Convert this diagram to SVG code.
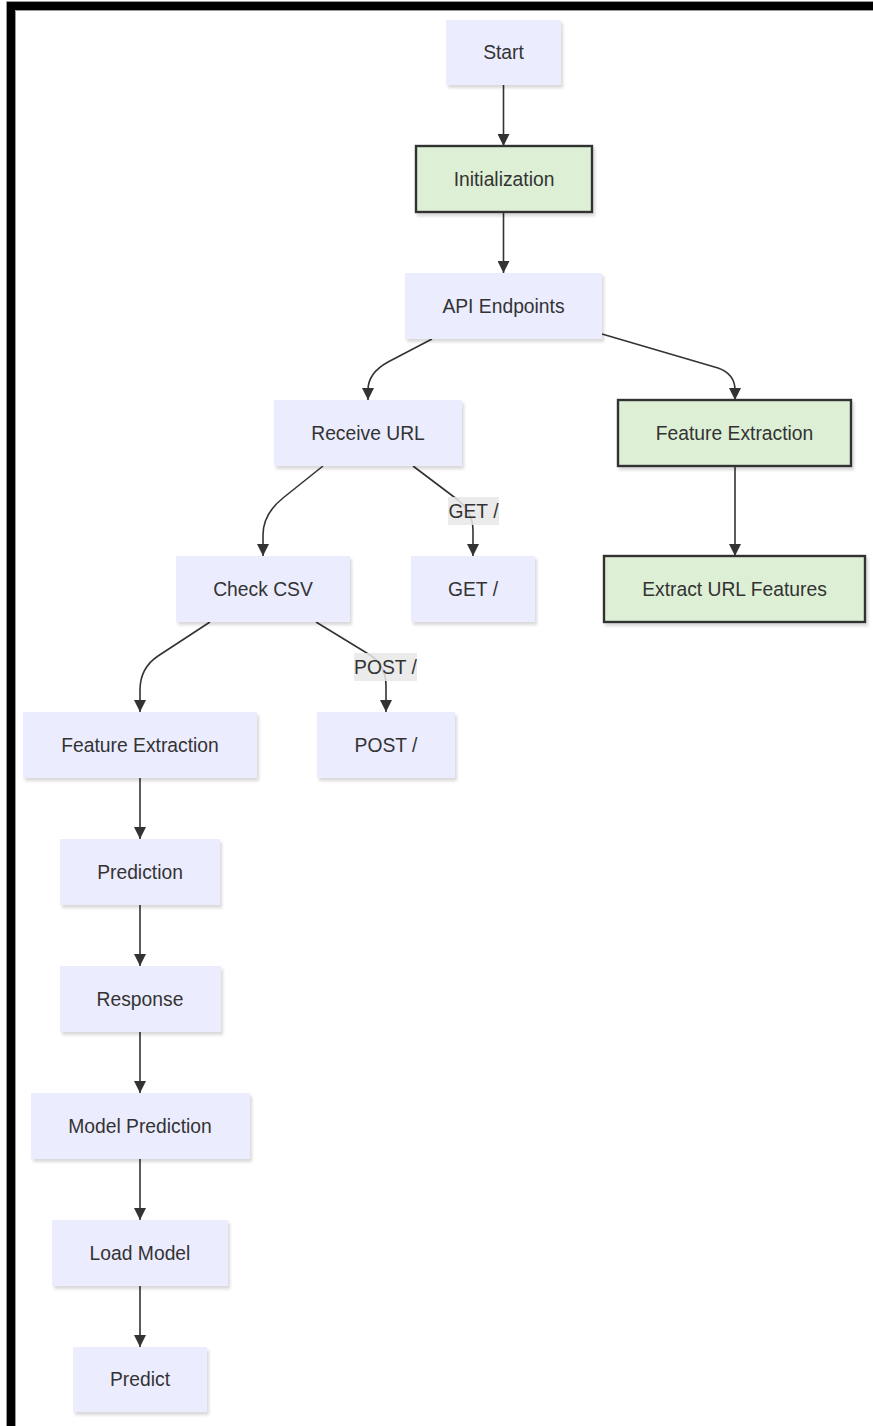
<svg xmlns="http://www.w3.org/2000/svg" width="873" height="1426" viewBox="0 0 873 1426">
<style>
.n{fill:#ECECFF;filter:url(#sh)}
.g{fill:#DDEFD5;stroke:#333;stroke-width:2.4;filter:url(#sh)}
.t{font-family:"Liberation Sans",Arial,sans-serif;font-size:19.3px;fill:#333;text-anchor:middle;dominant-baseline:central}
.e{fill:none;stroke:#333;stroke-width:1.6;marker-end:url(#ar)}
.lb{fill:#E8E8E8;opacity:0.85}
</style>
<defs>
<filter id="sh" x="-10%" y="-10%" width="130%" height="140%">
<feDropShadow dx="2" dy="3" stdDeviation="1.5" flood-color="#000" flood-opacity="0.15"/>
</filter>
<marker id="ar" viewBox="0 0 10 10" refX="10" refY="5" markerWidth="12" markerHeight="12" markerUnits="userSpaceOnUse" orient="auto">
<path d="M0,0 L10,5 L0,10 z" fill="#333"/>
</marker>
</defs>
<rect x="0" y="0" width="873" height="1426" fill="#fff"/>
<g id="frame">
<rect x="7" y="2" width="866" height="8" fill="#000"/>
<rect x="7" y="2" width="8" height="1424" fill="#000"/>
<path d="M873,1.5 H6.5 V1426" fill="none" stroke="#999" stroke-width="1"/>
<path d="M873,10.5 H15.5 V1426" fill="none" stroke="#999" stroke-width="1"/>
</g>
<g id="edges">
<path class="e" d="M503.5,85 V146"/>
<path class="e" d="M503.5,212 V273"/>
<path class="e" d="M432,339 L388,362 Q368,373 368,390 V400"/>
<path class="e" d="M602,334 L718,368 Q735,374 735,390 V400"/>
<path class="e" d="M735,466 V556"/>
<path class="e" d="M323,466 L283,498 Q263,514 263,535 V556"/>
<path class="e" d="M413,466 L458,500 Q473,512 473,530 V556"/>
<rect class="lb" x="448" y="497" width="51" height="28"/>
<text class="t" x="473.5" y="511">GET /</text>
<path class="e" d="M210,622 L158,656 Q140,668 140,690 V712"/>
<path class="e" d="M316,622 L370,655 Q386,665 386,686 V712"/>
<rect class="lb" x="354" y="653" width="63" height="28"/>
<text class="t" x="385.5" y="667">POST /</text>
<path class="e" d="M140,778 V839"/>
<path class="e" d="M140,905 V966"/>
<path class="e" d="M140,1032 V1093"/>
<path class="e" d="M140,1159 V1220"/>
<path class="e" d="M140,1286 V1347"/>
</g>
<g id="start"><rect class="n" x="446" y="20" width="115" height="65"/><text class="t" x="503.5" y="52.5">Start</text></g>
<g id="init"><rect class="g" x="416" y="146" width="176" height="66"/><text class="t" x="504" y="179">Initialization</text></g>
<g id="api"><rect class="n" x="405" y="273" width="197" height="66"/><text class="t" x="503.5" y="306">API Endpoints</text></g>
<g id="receive"><rect class="n" x="274" y="400" width="188" height="66"/><text class="t" x="368" y="433">Receive URL</text></g>
<g id="fe2"><rect class="g" x="618" y="400" width="233" height="66"/><text class="t" x="734.5" y="433">Feature Extraction</text></g>
<g id="extract"><rect class="g" x="604" y="556" width="261" height="66"/><text class="t" x="734.5" y="589">Extract URL Features</text></g>
<g id="check"><rect class="n" x="176" y="556" width="174" height="66"/><text class="t" x="263" y="589">Check CSV</text></g>
<g id="get"><rect class="n" x="411" y="556" width="124" height="66"/><text class="t" x="473" y="589">GET /</text></g>
<g id="fe1"><rect class="n" x="23" y="712" width="234" height="66"/><text class="t" x="140" y="745">Feature Extraction</text></g>
<g id="post"><rect class="n" x="317" y="712" width="138" height="66"/><text class="t" x="386" y="745">POST /</text></g>
<g id="prediction"><rect class="n" x="60" y="839" width="160" height="66"/><text class="t" x="140" y="872">Prediction</text></g>
<g id="response"><rect class="n" x="60" y="966" width="161" height="66"/><text class="t" x="140" y="999">Response</text></g>
<g id="modelpred"><rect class="n" x="31" y="1093" width="219" height="66"/><text class="t" x="140" y="1126">Model Prediction</text></g>
<g id="load"><rect class="n" x="52" y="1220" width="176" height="66"/><text class="t" x="140" y="1253">Load Model</text></g>
<g id="predict"><rect class="n" x="73" y="1347" width="134" height="65"/><text class="t" x="140" y="1379.5">Predict</text></g>
</svg>
